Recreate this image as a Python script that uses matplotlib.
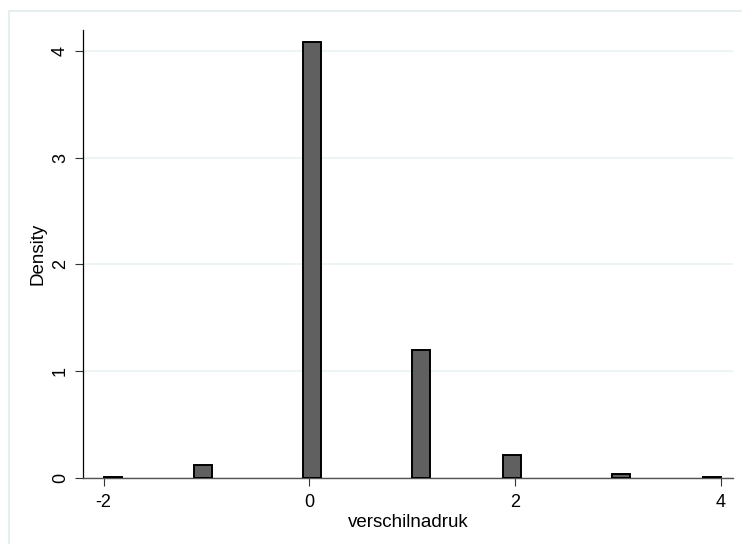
import numpy as np
import matplotlib.pyplot as plt
from matplotlib.patches import Rectangle

plt.rcParams['font.family'] = ['Liberation Sans', 'DejaVu Sans']
plt.rcParams['axes.unicode_minus'] = False

# verschilnadruk values and their histogram density (34 bins over -2..4)
values = [-2, -1, 0, 1, 2, 3, 4]
density = [0.008, 0.119, 4.087, 1.20, 0.207, 0.035, 0.006]
n_bins = 34
lo, hi = -2, 4

w = (hi - lo) / n_bins
edges = lo + w * np.floor((np.array(values) - lo) / w + 1e-9)
edges = np.minimum(edges, hi - w)

fig = plt.figure(figsize=(7.42, 5.44), dpi=100)
fig.patches.append(Rectangle((9 / 742, -0.1), 1.2, 1 - 11 / 544 + 0.1,
                             transform=fig.transFigure, fill=False,
                             edgecolor='#e6eef0', linewidth=1.5))
ax = fig.add_axes([83 / 742, 1 - 477.5 / 544, (733 - 83) / 742, (477.5 - 30) / 544])

ax.bar(edges, density, width=w, align='edge', color='#606060',
       edgecolor='black', linewidth=1.4, zorder=3)

ax.set_xlim(-2.2, 4.12)
ax.set_ylim(0, 4.2)
ax.set_xticks([-2, 0, 2, 4])
ax.set_yticks([0, 1, 2, 3, 4])
ax.grid(axis='y', color='#eaf2f3', linewidth=1.2, zorder=0)
ax.tick_params(labelsize=13, length=5.5, width=0.8, color='#333333')
ax.tick_params(axis='x', pad=6.5)
ax.tick_params(axis='y', pad=4.5)
for lab in ax.get_yticklabels():
    lab.set_rotation(90)
    lab.set_va('center')

for s in ['top', 'right']:
    ax.spines[s].set_visible(False)
ax.spines['left'].set_color('black')
ax.spines['left'].set_linewidth(0.9)
ax.spines['bottom'].set_color('#555555')
ax.spines['bottom'].set_linewidth(1.0)

ax.set_xlabel('verschilnadruk', fontsize=13.5, labelpad=2)
ax.set_ylabel('Density', fontsize=13.5, labelpad=4)

fig.savefig('out.png', dpi=100)
